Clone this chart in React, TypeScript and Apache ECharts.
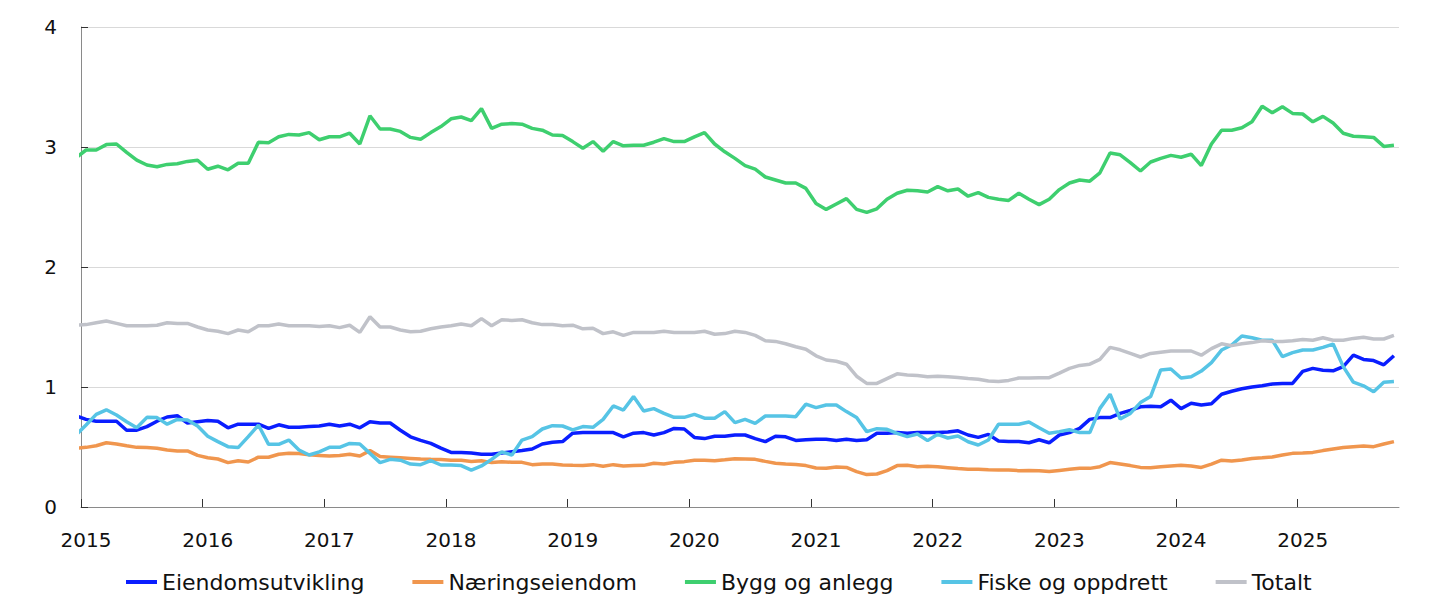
import React, { useEffect, useRef } from "react";
import * as echarts from "echarts";

// Monthly observations, first value = Dec 2014 (clipped at the axis), then Jan 2015 .. Oct 2025
const startYear = 2015;
const firstYearLabel = 2015;
const lastYearLabel = 2025;
const axisMonths = 130; // Jan 2015 .. Nov 2025

const seriesNames = ["Eiendomsutvikling", "Næringseiendom", "Bygg og anlegg", "Fiske og oppdrett", "Totalt"];
const seriesColors = ["#0A1EFF", "#F0964E", "#3ECF6F", "#56C4E5", "#C0C2C9"];

const eiendomsutvikling = [
  0.76,
  0.73, 0.715, 0.715, 0.715, 0.64, 0.64, 0.67, 0.715, 0.75, 0.76,
  0.70, 0.71, 0.72, 0.715, 0.66, 0.69, 0.69, 0.69, 0.655, 0.685,
  0.665, 0.665, 0.67, 0.675, 0.69, 0.675, 0.69, 0.66, 0.71, 0.70,
  0.70, 0.64, 0.585, 0.555, 0.53, 0.49, 0.455, 0.455, 0.45, 0.44,
  0.44, 0.45, 0.46, 0.47, 0.483, 0.525, 0.54, 0.545, 0.615, 0.62,
  0.62, 0.62, 0.62, 0.585, 0.615, 0.62, 0.60, 0.62, 0.655, 0.65,
  0.58, 0.57, 0.59, 0.59, 0.60, 0.60, 0.57, 0.545, 0.59, 0.585,
  0.555, 0.56, 0.565, 0.565, 0.555, 0.565, 0.555, 0.56, 0.615, 0.615,
  0.62, 0.615, 0.62, 0.62, 0.62, 0.625, 0.635, 0.60, 0.58, 0.605,
  0.55, 0.545, 0.545, 0.535, 0.56, 0.535, 0.60, 0.62, 0.655, 0.73,
  0.745, 0.745, 0.78, 0.805, 0.835, 0.84, 0.835, 0.89, 0.82, 0.865,
  0.85, 0.86, 0.94, 0.965, 0.985, 1.00, 1.01, 1.025, 1.03, 1.03,
  1.13, 1.155, 1.14, 1.135, 1.17, 1.265, 1.23, 1.22, 1.185, 1.26,
];

const naeringseiendom = [
  0.49,
  0.497, 0.51, 0.535, 0.525, 0.51, 0.497, 0.495, 0.49, 0.475, 0.467,
  0.467, 0.43, 0.41, 0.40, 0.37, 0.385, 0.375, 0.415, 0.415, 0.44,
  0.447, 0.445, 0.435, 0.43, 0.425, 0.43, 0.44, 0.425, 0.47, 0.42,
  0.415, 0.41, 0.405, 0.40, 0.397, 0.395, 0.39, 0.39, 0.38, 0.385,
  0.37, 0.378, 0.372, 0.372, 0.353, 0.358, 0.358, 0.35, 0.347, 0.345,
  0.353, 0.34, 0.353, 0.342, 0.345, 0.347, 0.365, 0.358, 0.372, 0.378,
  0.39, 0.39, 0.386, 0.394, 0.403, 0.40, 0.397, 0.38, 0.365, 0.358,
  0.355, 0.345, 0.325, 0.322, 0.333, 0.33, 0.295, 0.27, 0.275, 0.303,
  0.345, 0.347, 0.336, 0.34, 0.336, 0.328, 0.32, 0.314, 0.314, 0.31,
  0.308, 0.308, 0.303, 0.305, 0.303, 0.295, 0.305, 0.314, 0.322, 0.322,
  0.336, 0.37, 0.358, 0.345, 0.33, 0.328, 0.336, 0.342, 0.347, 0.342,
  0.33, 0.358, 0.39, 0.383, 0.392, 0.405, 0.41, 0.417, 0.433, 0.447,
  0.45, 0.455, 0.47, 0.483, 0.495, 0.503, 0.508, 0.503, 0.525, 0.545,
];

const byggOgAnlegg = [
  2.91,
  2.975, 2.975, 3.02, 3.025, 2.955, 2.89, 2.85, 2.835, 2.855, 2.86,
  2.88, 2.89, 2.815, 2.84, 2.81, 2.865, 2.865, 3.04, 3.035, 3.085,
  3.105, 3.10, 3.12, 3.06, 3.085, 3.085, 3.115, 3.025, 3.26, 3.15,
  3.15, 3.13, 3.08, 3.065, 3.12, 3.17, 3.235, 3.25, 3.22, 3.32,
  3.155, 3.19, 3.195, 3.19, 3.155, 3.14, 3.10, 3.095, 3.045, 2.99,
  3.045, 2.965, 3.045, 3.01, 3.015, 3.015, 3.04, 3.07, 3.045, 3.045,
  3.085, 3.12, 3.025, 2.96, 2.905, 2.845, 2.815, 2.75, 2.725, 2.70,
  2.70, 2.655, 2.53, 2.48, 2.525, 2.57, 2.48, 2.455, 2.485, 2.565,
  2.615, 2.64, 2.635, 2.625, 2.67, 2.635, 2.65, 2.59, 2.62, 2.58,
  2.565, 2.555, 2.615, 2.565, 2.52, 2.565, 2.645, 2.70, 2.725, 2.715,
  2.785, 2.95, 2.935, 2.87, 2.80, 2.875, 2.905, 2.93, 2.915, 2.94,
  2.845, 3.025, 3.14, 3.14, 3.16, 3.21, 3.34, 3.285, 3.335, 3.28,
  3.275, 3.21, 3.255, 3.20, 3.115, 3.09, 3.085, 3.08, 3.005, 3.015,
];

const fiskeOgOppdrett = [
  0.60,
  0.683, 0.772, 0.81, 0.767, 0.71, 0.66, 0.747, 0.745, 0.69, 0.73,
  0.725, 0.675, 0.59, 0.545, 0.503, 0.495, 0.586, 0.683, 0.522, 0.522,
  0.558, 0.475, 0.433, 0.46, 0.497, 0.497, 0.53, 0.525, 0.447, 0.37,
  0.397, 0.39, 0.358, 0.353, 0.386, 0.35, 0.35, 0.345, 0.308, 0.342,
  0.397, 0.46, 0.433, 0.558, 0.586, 0.65, 0.678, 0.675, 0.642, 0.67,
  0.664, 0.73, 0.842, 0.808, 0.92, 0.80, 0.82, 0.78, 0.747, 0.747,
  0.772, 0.74, 0.74, 0.795, 0.703, 0.73, 0.697, 0.758, 0.758, 0.758,
  0.753, 0.858, 0.828, 0.85, 0.85, 0.795, 0.745, 0.628, 0.653, 0.647,
  0.614, 0.586, 0.608, 0.553, 0.606, 0.575, 0.592, 0.544, 0.517, 0.558,
  0.69, 0.69, 0.69, 0.708, 0.66, 0.614, 0.628, 0.644, 0.62, 0.62,
  0.822, 0.94, 0.733, 0.78, 0.87, 0.92, 1.142, 1.15, 1.075, 1.086,
  1.133, 1.203, 1.308, 1.35, 1.425, 1.41, 1.39, 1.39, 1.253, 1.286,
  1.308, 1.308, 1.33, 1.358, 1.17, 1.04, 1.01, 0.96, 1.04, 1.045,
];

const totalt = [
  1.515,
  1.52, 1.535, 1.55, 1.53, 1.51, 1.51, 1.51, 1.515, 1.535, 1.53,
  1.53, 1.50, 1.475, 1.465, 1.445, 1.475, 1.46, 1.51, 1.51, 1.525,
  1.51, 1.51, 1.51, 1.505, 1.51, 1.495, 1.515, 1.455, 1.585, 1.50,
  1.50, 1.475, 1.46, 1.465, 1.485, 1.50, 1.51, 1.525, 1.51, 1.57,
  1.51, 1.56, 1.555, 1.56, 1.535, 1.52, 1.52, 1.51, 1.515, 1.485,
  1.49, 1.445, 1.46, 1.43, 1.455, 1.455, 1.455, 1.465, 1.455, 1.455,
  1.455, 1.465, 1.44, 1.445, 1.465, 1.455, 1.43, 1.385, 1.38, 1.36,
  1.335, 1.315, 1.26, 1.225, 1.215, 1.19, 1.09, 1.03, 1.03, 1.07,
  1.11, 1.10, 1.095, 1.085, 1.09, 1.085, 1.08, 1.07, 1.065, 1.05,
  1.045, 1.055, 1.075, 1.075, 1.078, 1.078, 1.115, 1.155, 1.18, 1.19,
  1.23, 1.33, 1.31, 1.28, 1.25, 1.28, 1.29, 1.30, 1.30, 1.30,
  1.265, 1.32, 1.36, 1.345, 1.36, 1.37, 1.385, 1.38, 1.38, 1.385,
  1.395, 1.39, 1.41, 1.39, 1.39, 1.405, 1.415, 1.40, 1.40, 1.43,
];

const yTicks = [0, 1, 2, 3, 4];

const allSeries = [eiendomsutvikling, naeringseiendom, byggOgAnlegg, fiskeOgOppdrett, totalt];

export default function App() {
  const ref = useRef<HTMLDivElement>(null);

  useEffect(() => {
    if (!ref.current) return;
    const chart = echarts.init(ref.current, null, { renderer: "svg" });

    const years: number[] = [];
    for (let y = firstYearLabel; y <= lastYearLabel; y++) years.push(y);
    const tickValues = years.map((y) => (y - startYear) * 12);
    const labelValues = years.map((y) => (y - startYear) * 12 + 0.5);

    // month position: value index 0 is Dec 2014 -> mid-month position -0.5
    const toPoints = (arr: number[]) => arr.map((v, i) => [i - 1 + 0.5, v]);

    const font = "DejaVu Sans";

    chart.setOption({
      animation: false,
      backgroundColor: "#ffffff",
      grid: { left: 81, right: 46, top: 27, bottom: 100 },
      xAxis: {
        type: "value",
        min: 0,
        max: axisMonths,
        axisLine: { show: true, lineStyle: { color: "#8a8a8a", width: 1 } },
        axisTick: {
          show: true,
          inside: true,
          length: 8,
          customValues: tickValues,
          lineStyle: { color: "#333333", width: 1 },
        },
        axisLabel: {
          customValues: labelValues,
          formatter: (v: number) => String(startYear + Math.floor(v / 12)),
          fontFamily: font,
          fontSize: 20,
          color: "#111111",
          margin: 23,
        },
        splitLine: { show: false },
      },
      yAxis: {
        type: "value",
        min: yTicks[0],
        max: yTicks[yTicks.length - 1],
        interval: 1,
        axisLine: { show: true, lineStyle: { color: "#8a8a8a", width: 1 } },
        axisTick: { show: true, inside: true, length: 7, lineStyle: { color: "#333333", width: 1 } },
        axisLabel: { fontFamily: font, fontSize: 20, color: "#111111", margin: 24 },
        splitLine: { show: true, lineStyle: { color: "#d9d9d9", width: 1 } },
      },
      legend: {
        left: 126,
        top: 571,
        padding: 0,
        icon: "rect",
        itemWidth: 31,
        itemHeight: 4,
        itemGap: 48,
        textStyle: { fontFamily: font, fontSize: 22, color: "#111111" },
        data: seriesNames,
      },
      series: allSeries.map((arr, idx) => ({
        name: seriesNames[idx],
        type: "line",
        data: toPoints(arr),
        showSymbol: false,
        symbol: "none",
        color: seriesColors[idx],
        lineStyle: { color: seriesColors[idx], width: 3.5 },
        clip: true,
      })),
    });

    return () => chart.dispose();
  }, []);

  return (
    <div
      ref={ref}
      style={{ position: "fixed", left: 0, top: 0, width: 1445, height: 607, background: "#fff" }}
    />
  );
}
